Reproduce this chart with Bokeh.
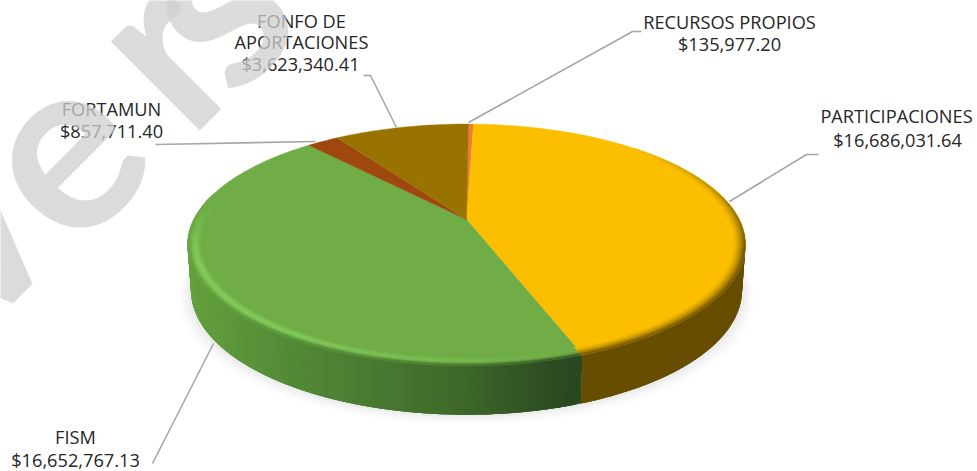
import math
import numpy as np
from bokeh.embed import file_html
from bokeh.models import Range1d
from bokeh.plotting import figure
from bokeh.resources import INLINE
from bokeh.core.properties import value

# ---- data ----
categories = ["RECURSOS PROPIOS", "PARTICIPACIONES", "FISM", "FORTAMUN", "FONFO DE APORTACIONES"]
amounts = [135977.20, 16686031.64, 16652767.13, 857711.40, 3623340.41]
amount_labels = ["$135,977.20", "$16,686,031.64", "$16,652,767.13", "$857,711.40", "$3,623,340.41"]
slice_colors = ["#ed7d31", "#fcbf00", "#70ad47", "#9e480e", "#997300"]
watermark_letters = ["v", "e", "r", "s"]

# ---- layout (page pixels) ----
CX, CY = 466.0, 219.0
K = 0.21
SY = 115.5
RX = 272.7
START = 0.5
FONT = "Open Sans"
SIZE = "18.2px"
TEXT = "#262626"
LEADER = "#a6a6a6"
WM_X = [-45, 55, 154, 204]
WM_Y = [226, 147, 41, -4]

p = figure(width=977, height=471, x_range=Range1d(0, 977), y_range=Range1d(471, 0),
           toolbar_location=None, output_backend="svg", min_border=0)
p.axis.visible = False
p.grid.visible = False
p.outline_line_color = None
p.background_fill_color = "white"
p.border_fill_color = "white"


def proj(theta_deg, s=1.0):
    t = np.radians(theta_deg)
    X, Y = s * np.sin(t), s * np.cos(t)
    d = 1 + K * Y
    return CX + RX * X / d, CY - SY * Y / d


def lower(theta_deg):
    x, y = proj(theta_deg)
    Y = np.cos(np.radians(theta_deg))
    return CX + (x - CX) * 0.988, y + 44 + 5 * np.maximum(0, -Y)


def rgb(h):
    return np.array([int(h[i:i + 2], 16) for i in (1, 3, 5)], float)


def mix(a, b, t):
    return a + (b - a) * t


def tohex(c):
    return "#%02x%02x%02x" % tuple(int(round(v)) for v in np.clip(c, 0, 255))


fractions = np.array(amounts) / sum(amounts)
edges = START + np.concatenate([[0], np.cumsum(fractions) * 360])
boundary = edges[2]  # yellow / green edge on the front of the pie

green_x = [190, 300, 466, 580]
green_c = ["#64a03e", "#528a37", "#3f6a2a", "#2a4820"]
YELLOW_WALL = rgb("#664d00")
HILITE = rgb("#82cc5c")


def wall_color(theta, x):
    if theta < boundary:
        return YELLOW_WALL
    return np.array([np.interp(x, green_x, [rgb(c)[i] for c in green_c]) for i in range(3)])


# soft shadow
ths = np.linspace(0, 360, 241)
lx, ly = lower(ths)
for d, a in zip([12, 9, 6, 3], [0.025, 0.035, 0.045, 0.06]):
    p.patch(CX + (lx - CX) * (1 + d / 279), ly + d * 0.8, fill_color="#808080", fill_alpha=a, line_color=None)

# side wall: each piece overlaps the next so no seams show
wx, wy, wc = [], [], []
pieces = [(th, th + 2.5) for th in np.arange(boundary, 282, 0.75)[::-1]]
pieces += [(th, min(th + 2.5, boundary)) for th in np.arange(80, boundary, 1.0)[::-1]]
for th, th1 in pieces:
    mid = np.linspace(th, th1, 4)
    tx, ty = proj(mid)
    lx2, ly2 = lower(mid)
    wx.append(list(tx) + list(lx2[::-1]))
    wy.append(list(ty) + list(ly2[::-1]))
    wc.append(tohex(wall_color(th + 0.01, float(tx[0]))))
p.patches(wx, wy, fill_color=wc, line_color=None)

# top face
for i, col in enumerate(slice_colors):
    a = np.linspace(edges[i], edges[i + 1], max(3, int(edges[i + 1] - edges[i]) + 2))
    fx, fy = proj(a)
    p.patch(np.concatenate([[CX], fx]), np.concatenate([[CY], fy]), fill_color=col, line_color=col, line_width=0.4)

# bevel on the rim of the top face
bx, by, bc = [], [], []
bands = np.linspace(0.955, 1.0, 8)
step = 1.5
for th in np.arange(45, 280, step):
    mid = th + step / 2
    face = rgb(slice_colors[1] if mid < boundary else slice_colors[2])
    for j in range(len(bands) - 1):
        s0, s1 = bands[j], bands[j + 1]
        t = (j + 0.5) / (len(bands) - 1)
        xa, ya = proj(th, s0)
        xb, yb = proj(th + step, s0)
        xc, yc = proj(th + step, s1)
        xd, yd = proj(th, s1)
        if mid < boundary:
            w = min(1.0, max(0.0, (mid - 45) / 60))
            c = mix(face, wall_color(mid, xa), w * t ** 1.6)
        else:
            hw = min(1.0, max(0.0, (mid - boundary) / 55)) * min(1.0, max(0.0, (278 - mid) / 25))
            c = mix(face, HILITE, hw * math.sin(math.pi * min(1.0, t * 1.15)))
            wt = max(0.0, (t - 0.6) / 0.4) * min(1.0, max(0.0, (278 - mid) / 25))
            c = mix(c, wall_color(mid, xa), wt)
        bx.append([xa, xb, xc, xd])
        by.append([ya, yb, yc, yd])
        bc.append(tohex(c))
p.patches(bx, by, fill_color=bc, line_color=bc, line_width=0.5)

# leader lines (screen pixels)
leaders = [
    ([468, 632, 641], [122, 31, 31]),
    ([729, 806, 818], [201, 154, 154]),
    ([213, 152], [343, 463]),
    ([155, 315], [144, 141]),
    ([363, 370, 396], [75, 75, 127]),
]
for lxs, lys in leaders:
    p.line(lxs, lys, line_color=LEADER, line_width=1.6)

# labels: one text per line
label_lines = [
    (729, 21, categories[0]), (729, 43, amount_labels[0]),
    (896, 115, categories[1]), (897, 139, amount_labels[1]),
    (75, 436, categories[2]), (75, 459, amount_labels[2]),
    (111, 108, categories[3]), (111, 130, amount_labels[3]),
    (301, 20, "FONFO DE"), (301, 41, "APORTACIONES"), (300, 63, amount_labels[4]),
]
p.text([l[0] for l in label_lines], [l[1] for l in label_lines], text=[l[2] for l in label_lines],
       text_font=value(FONT), text_font_size=SIZE, text_color=TEXT,
       text_align="center", text_baseline="middle")

# watermark above everything, placed letter by letter
p.text(WM_X, WM_Y, text=watermark_letters, angle=math.radians(45),
       text_font=value("Lato"), text_font_size="245px", text_font_style="bold",
       text_color="#cfcfcf", text_alpha=0.75,
       text_align="center", text_baseline="alphabetic")

open("out.html", "w").write(file_html(p, INLINE))
